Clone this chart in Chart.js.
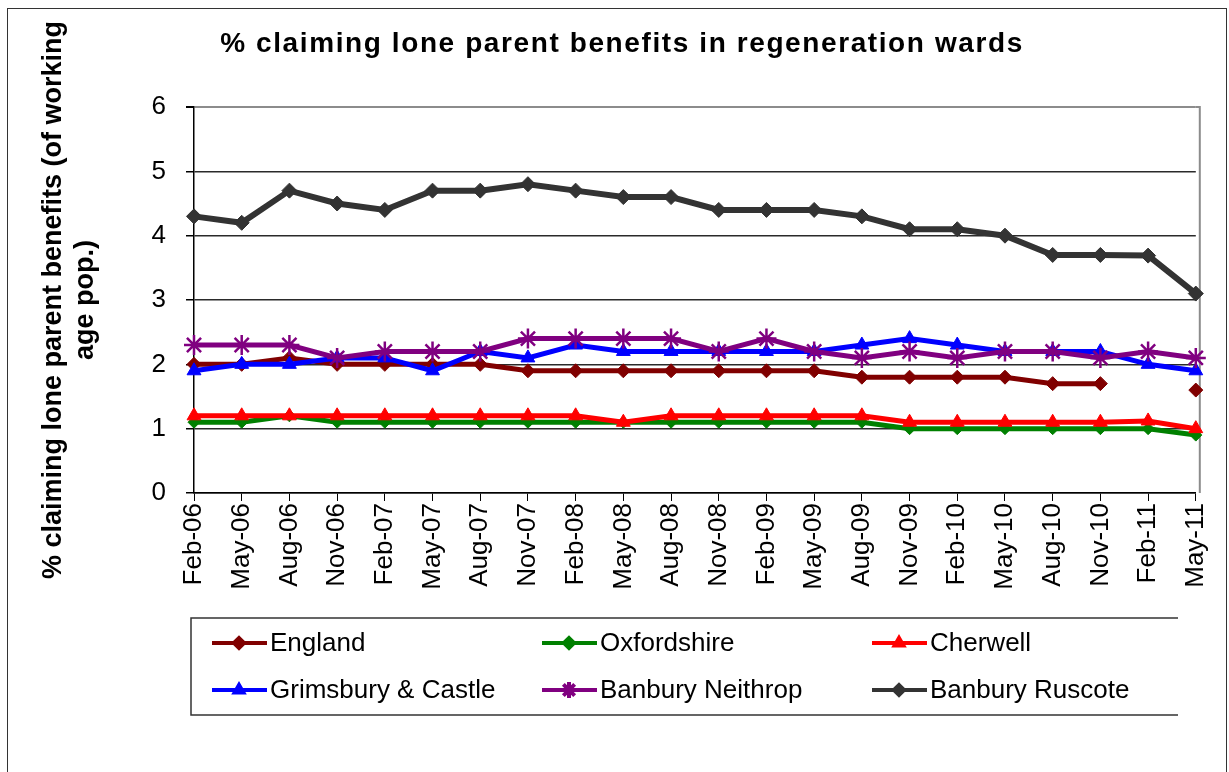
<!DOCTYPE html>
<html>
<head>
<meta charset="utf-8">
<title>% claiming lone parent benefits in regeneration wards</title>
<script src="https://cdn.jsdelivr.net/npm/chart.js"></script>
<style>
  html, body { margin: 0; padding: 0; background: #fff; overflow: hidden; }
  #cadre { position: absolute; left: 7px; top: 8px; width: 1218px; height: 800px; border: 1px solid #333; }
  #grafico { position: absolute; left: 0; top: 0; }
</style>
</head>
<body>
<div id="cadre"></div>
<canvas id="grafico" width="1229" height="772"></canvas>
<script>
// Dados
const meses = ['Feb-06', 'May-06', 'Aug-06', 'Nov-06', 'Feb-07', 'May-07', 'Aug-07', 'Nov-07',
  'Feb-08', 'May-08', 'Aug-08', 'Nov-08', 'Feb-09', 'May-09', 'Aug-09', 'Nov-09',
  'Feb-10', 'May-10', 'Aug-10', 'Nov-10', 'Feb-11', 'May-11'];
const england = [2.0, 2.0, 2.1, 2.0, 2.0, 2.0, 2.0, 1.9, 1.9, 1.9, 1.9, 1.9, 1.9, 1.9, 1.8, 1.8, 1.8, 1.8, 1.7, 1.7, null, 1.6];
const oxfordshire = [1.1, 1.1, 1.2, 1.1, 1.1, 1.1, 1.1, 1.1, 1.1, 1.1, 1.1, 1.1, 1.1, 1.1, 1.1, 1.0, 1.0, 1.0, 1.0, 1.0, 1.0, 0.9];
const cherwell = [1.2, 1.2, 1.2, 1.2, 1.2, 1.2, 1.2, 1.2, 1.2, 1.1, 1.2, 1.2, 1.2, 1.2, 1.2, 1.1, 1.1, 1.1, 1.1, 1.1, 1.12, 1.0];
const grimsbury = [1.9, 2.0, 2.0, 2.1, 2.1, 1.9, 2.2, 2.1, 2.3, 2.2, 2.2, 2.2, 2.2, 2.2, 2.3, 2.4, 2.3, 2.2, 2.2, 2.2, 2.0, 1.9];
const neithrop = [2.3, 2.3, 2.3, 2.1, 2.2, 2.2, 2.2, 2.4, 2.4, 2.4, 2.4, 2.2, 2.4, 2.2, 2.1, 2.2, 2.1, 2.2, 2.2, 2.1, 2.2, 2.1];
const ruscote = [4.3, 4.2, 4.7, 4.5, 4.4, 4.7, 4.7, 4.8, 4.7, 4.6, 4.6, 4.4, 4.4, 4.4, 4.3, 4.1, 4.1, 4.0, 3.7, 3.7, 3.69, 3.1];
const ticksY = [0, 1, 2, 3, 4, 5, 6];

const titulo = '% claiming lone parent benefits in regeneration wards';
const tituloY = ['% claiming lone parent benefits (of working', 'age pop.)'];
const fonte = "'Liberation Sans', Arial, sans-serif";

// Série com estilo tipo Excel
function serie(label, data, cor, estilo, raio, ordem, largura) {
  return {
    label, data,
    borderColor: cor,
    backgroundColor: cor,
    borderWidth: largura || 5,
    pointStyle: estilo,
    pointRadius: raio,
    pointHoverRadius: raio,
    pointBorderWidth: estilo === 'star' ? 2.5 : 1,
    pointBackgroundColor: cor,
    pointBorderColor: cor,
    tension: 0,
    spanGaps: false,
    order: ordem
  };
}

// Título + legenda desenhados à mão (legenda em grade 3x2)
const extras = {
  id: 'extras',
  beforeDatasetsDraw(chart) {
    const ctx = chart.ctx, ca = chart.chartArea;
    ctx.save();
    ctx.strokeStyle = '#8c8c8c';
    ctx.lineWidth = 2;
    ctx.beginPath();
    ctx.moveTo(ca.right, ca.top);
    ctx.lineTo(ca.right + 4, ca.top);
    ctx.lineTo(ca.right + 4, ca.bottom);
    ctx.stroke();
    ctx.restore();
  },
  afterDraw(chart) {
    const ctx = chart.ctx;
    ctx.save();
    // título
    ctx.fillStyle = '#000';
    ctx.font = 'bold 28px ' + fonte;
    if ('letterSpacing' in ctx) ctx.letterSpacing = '1.6px';
    ctx.textAlign = 'center';
    ctx.textBaseline = 'alphabetic';
    ctx.fillText(titulo, 622, 52);
    if ('letterSpacing' in ctx) ctx.letterSpacing = '0px';

    // caixa da legenda
    ctx.strokeStyle = '#333';
    ctx.lineWidth = 1.5;
    ctx.beginPath();
    ctx.moveTo(1178, 618);
    ctx.lineTo(191, 618);
    ctx.lineTo(191, 715);
    ctx.lineTo(1178, 715);
    ctx.stroke();

    ctx.font = '26px ' + fonte;
    ctx.textAlign = 'left';
    ctx.textBaseline = 'middle';
    chart.data.datasets.forEach((ds, i) => {
      const x0 = 212 + (i % 3) * 330;
      const y0 = 643 + Math.floor(i / 3) * 47;
      ctx.strokeStyle = ds.borderColor;
      ctx.fillStyle = ds.borderColor;
      ctx.lineWidth = 4;
      ctx.beginPath();
      ctx.moveTo(x0, y0);
      ctx.lineTo(x0 + 55, y0);
      ctx.stroke();
      Chart.helpers.drawPoint(ctx, {
        pointStyle: ds.pointStyle,
        radius: ds.pointStyle === 'star' ? 8 : 5,
        rotation: 0,
        borderWidth: ds.pointStyle === 'star' ? 1.5 : 1
      }, x0 + 27, y0);
      ctx.fillStyle = '#000';
      ctx.fillText(ds.label, x0 + 58, y0 + 1);
    });
    ctx.restore();
  }
};

const ctx = document.getElementById('grafico').getContext('2d');
new Chart(ctx, {
  type: 'line',
  data: {
    labels: meses,
    datasets: [
      serie('England', england, '#800000', 'rectRot', 7, 5),
      serie('Oxfordshire', oxfordshire, '#008000', 'rectRot', 6, 4),
      serie('Cherwell', cherwell, '#ff0000', 'triangle', 8, 3),
      serie('Grimsbury & Castle', grimsbury, '#0000ff', 'triangle', 8, 2),
      serie('Banbury Neithrop', neithrop, '#800080', 'star', 10, 1),
      serie('Banbury Ruscote', ruscote, '#333333', 'rectRot', 7.5, 0, 6)
    ]
  },
  options: {
    responsive: false,
    animation: false,
    devicePixelRatio: 1,
    layout: { padding: { top: 107, right: 22, bottom: 0, left: 0 } },
    plugins: {
      legend: { display: false },
      title: { display: false },
      tooltip: { enabled: false }
    },
    scales: {
      x: {
        offset: false,
        afterFit: s => { s.height = 279; },
        border: { display: true, color: '#000', width: 1.5 },
        grid: { display: true, drawOnChartArea: false, drawTicks: true, tickLength: 8, color: '#000' },
        ticks: {
          autoSkip: false, maxRotation: 90, minRotation: 90, padding: 2,
          color: '#000', font: { family: fonte, size: 26 }
        }
      },
      y: {
        min: 0, max: 6,
        afterFit: s => { s.width = 194; },
        afterBuildTicks: s => { s.ticks = ticksY.map(v => ({ value: v })); },
        border: { display: true, color: '#000', width: 1.5 },
        grid: {
          color: c => (c.tick && c.tick.value === 6 ? '#8c8c8c' : '#2a2a2a'),
          lineWidth: c => (c.tick && c.tick.value === 6 ? 2 : 1.5),
          tickColor: '#000', tickLength: 8
        },
        ticks: { padding: 20, color: '#000', font: { family: fonte, size: 26 } },
        title: {
          display: true,
          text: tituloY,
          color: '#000',
          padding: { top: 38, bottom: 0 },
          font: { family: fonte, size: 27, weight: 'bold', lineHeight: '32px' }
        }
      }
    }
  },
  plugins: [extras]
});
</script>
</body>
</html>
